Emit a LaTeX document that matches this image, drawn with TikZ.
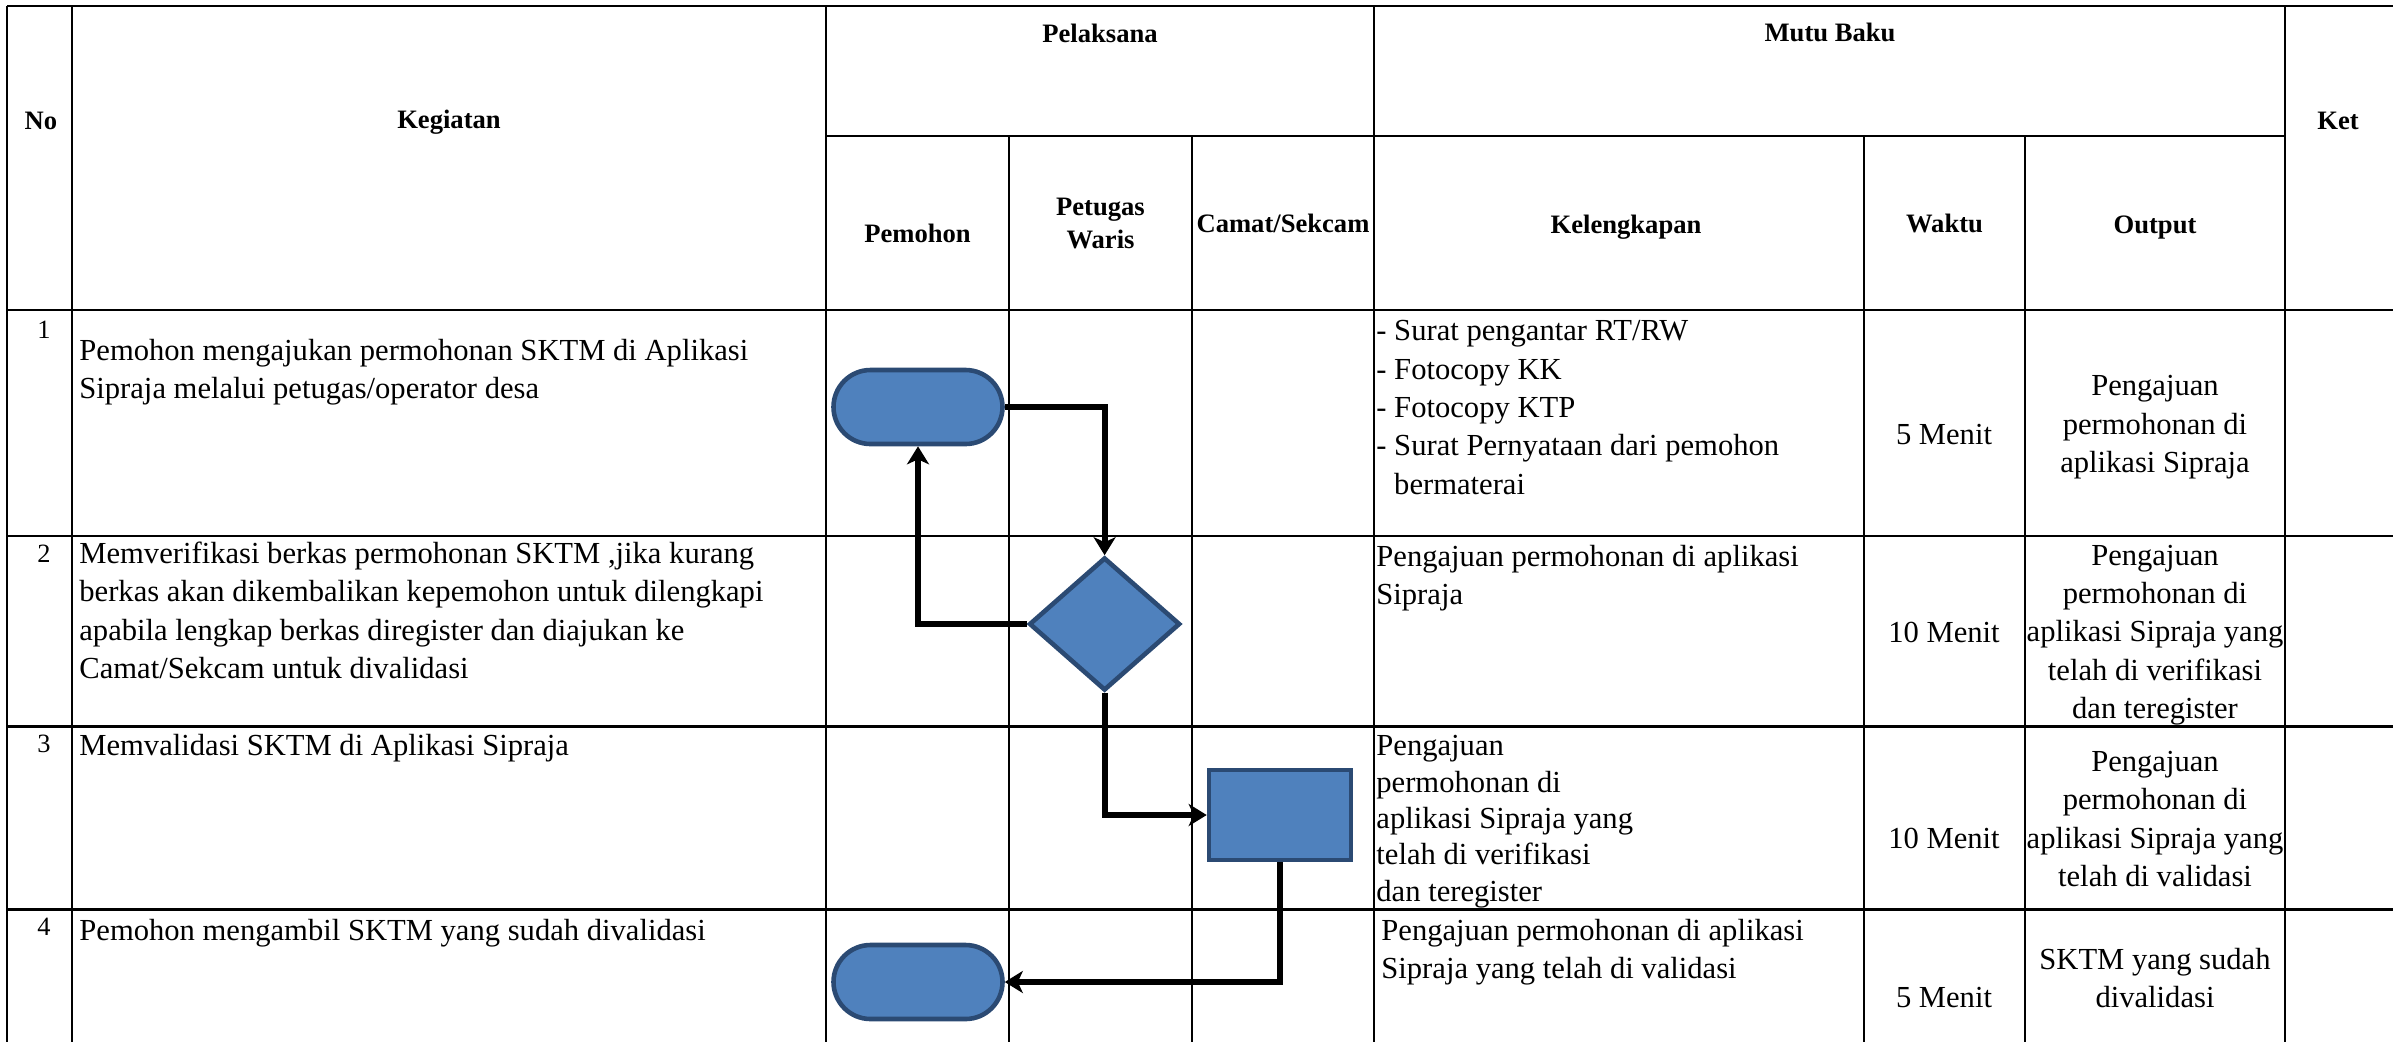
\documentclass[tikz,border=0pt]{standalone}
\usepackage{fontspec}
\setmainfont{Liberation Serif}
\usetikzlibrary{shapes.geometric,arrows.meta}
\definecolor{shapefill}{HTML}{4F81BD}
\definecolor{shapeline}{HTML}{2B4A73}
\newcommand\bodyfont{\fontsize{15.3pt}{19.2pt}\selectfont}
\newcommand\headfont{\fontsize{13.3pt}{16.5pt}\selectfont\bfseries}
\newcommand\numfont{\fontsize{13.2pt}{15pt}\selectfont}
\begin{document}
\begin{tikzpicture}[x=0.5pt,y=-0.5pt,
  hl/.style={line width=1.4pt,draw=black},
  vl/.style={line width=1pt,draw=black},
  cell/.style={inner sep=0pt,font=\bodyfont,align=left,anchor=north west},
  ctext/.style={inner sep=0pt,font=\bodyfont,align=center},
  otext/.style={inner sep=0pt,font=\bodyfont,align=center,anchor=north},
  head/.style={inner sep=0pt,font=\headfont,align=center},
  num/.style={inner sep=0pt,font=\numfont},
  term/.style={rectangle,draw=shapeline,fill=shapefill,line width=2.3pt,rounded corners=18.5pt,minimum width=84.5pt,minimum height=37pt,inner sep=0pt},
  decision/.style={diamond,draw=shapeline,fill=shapefill,line width=2.3pt,minimum width=75.5pt,minimum height=66.5pt,inner sep=0pt},
  proc/.style={rectangle,draw=shapeline,fill=shapefill,line width=2.3pt,minimum width=71pt,minimum height=45pt,inner sep=0pt},
  flow/.style={line width=3pt,-{Stealth[length=9pt,width=11pt,inset=2.5pt]}}
]
\useasboundingbox (0,0) rectangle (2393,1041);
\begin{scope}
\clip (0,0) rectangle (2393,1041);
% horizontal lines
\draw[hl] (7,6) -- (2400,6);
\draw[hl] (826,136) -- (2285,136);
\draw[hl] (7,310) -- (2400,310);
\draw[hl] (7,536) -- (2400,536);
\draw[hl] (7,726.5) -- (2400,726.5);
\draw[hl] (7,909.6) -- (2400,909.6);
% vertical lines
\draw[vl] (7,6) -- (7,1050);
\draw[vl] (72,6) -- (72,1050);
\draw[vl] (826,6) -- (826,1050);
\draw[vl] (1009,136) -- (1009,1050);
\draw[vl] (1192,136) -- (1192,1050);
\draw[vl] (1374,6) -- (1374,1050);
\draw[vl] (1864,136) -- (1864,1050);
\draw[vl] (2025,136) -- (2025,1050);
\draw[vl] (2285,6) -- (2285,1050);
\end{scope}

% header
\node[head] (hNo) at (41,121) {No};
\node[head] (hKeg) at (449,122) {Kegiatan};
\node[head] (hPel) at (1100,33) {Pelaksana};
\node[head] (hMutu) at (1830,32) {Mutu Baku};
\node[head] (hKet) at (2338,120.5) {Ket};
\node[head] (hPem) at (917.5,233) {Pemohon};
\node[head] (hPet) at (1100.5,223) {Petugas\\Waris};
\node[head] (hCam) at (1283,223) {Camat/Sekcam};
\node[head] (hKel) at (1626,227.5) {Kelengkapan};
\node[head] (hWak) at (1944.5,223) {Waktu};
\node[head] (hOut) at (2155,227.5) {Output};

% numbers
\node[num] (n1) at (44,330) {1};
\node[num] (n2) at (44,554) {2};
\node[num] (n3) at (44,744) {3};
\node[num] (n4) at (44,927) {4};

% kegiatan
\node[cell] (k1) at (79,338.5) {Pemohon mengajukan permohonan SKTM di Aplikasi\\Sipraja melalui petugas/operator desa};
\node[cell] (k2) at (79,541.5) {Memverifikasi berkas permohonan SKTM ,jika kurang\\berkas akan dikembalikan kepemohon untuk dilengkapi\\apabila lengkap berkas diregister dan diajukan ke\\Camat/Sekcam untuk divalidasi};
\node[cell] (k3) at (79,734) {Memvalidasi SKTM di Aplikasi Sipraja};
\node[cell] (k4) at (79,918.5) {Pemohon mengambil SKTM yang sudah divalidasi};

% kelengkapan
\node[cell] (l1) at (1376,320) {- Surat pengantar RT/RW\\- Fotocopy KK\\- Fotocopy KTP\\- Surat Pernyataan dari pemohon\\\hspace{8.9pt}bermaterai};
\node[cell] (l2) at (1376,544.5) {Pengajuan permohonan di aplikasi\\Sipraja};
\node[cell,font=\fontsize{15.3pt}{18.2pt}\selectfont] (l3) at (1376,735) {Pengajuan\\permohonan di\\aplikasi Sipraja yang\\telah di verifikasi\\dan teregister};
\node[cell] (l4) at (1381,918.5) {Pengajuan permohonan di aplikasi\\Sipraja yang telah di validasi};

% waktu
\node[ctext] (w1) at (1944,435) {5 Menit};
\node[ctext] (w2) at (1944,632) {10 Menit};
\node[ctext] (w3) at (1944,838) {10 Menit};
\node[ctext] (w4) at (1944,997) {5 Menit};

% output
\node[otext] (o1) at (2155,375) {Pengajuan\\permohonan di\\aplikasi Sipraja};
\node[otext] (o2) at (2155,544.5) {Pengajuan\\permohonan di\\aplikasi Sipraja yang\\telah di verifikasi\\dan teregister};
\node[otext] (o3) at (2155,750.6) {Pengajuan\\permohonan di\\aplikasi Sipraja yang\\telah di validasi};
\node[otext] (o4) at (2155,947.5) {SKTM yang sudah\\divalidasi};

% flow shapes
\node[term] (t1) at (918,407) {};
\node[decision] (d) at (1104.6,624) {};
\node[proc] (r) at (1280,815) {};
\node[term] (t2) at (918,982) {};

% connectors
\draw[flow] (t1.east) -| (d.north);
\draw[flow] (d.west) -| (t1.south);
\draw[flow] (d.south) |- (r.west);
\draw[flow] (r.south) |- (t2.east);
\end{tikzpicture}
\end{document}
